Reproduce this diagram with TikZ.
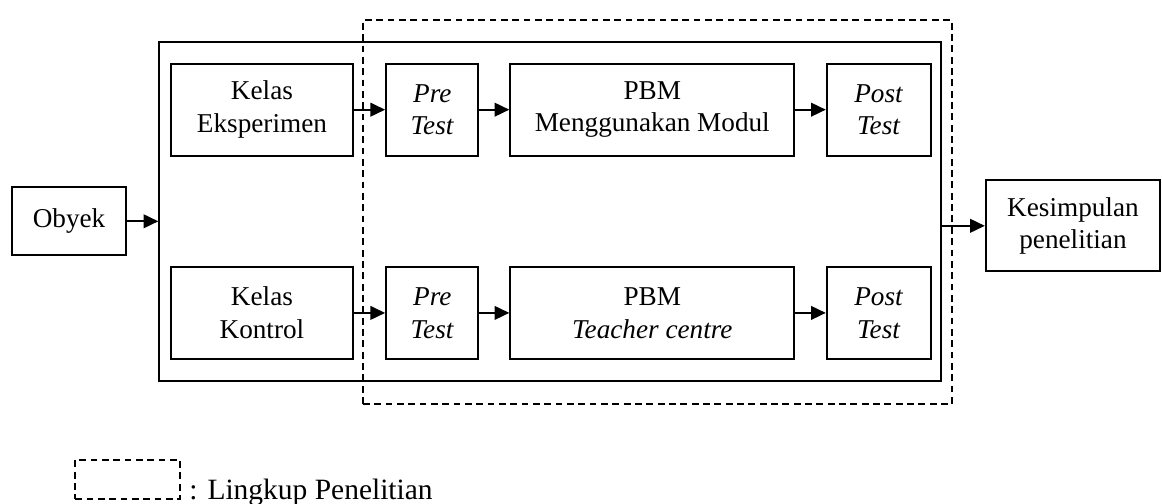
\documentclass[tikz,border=0pt]{standalone}
\usepackage{fontspec}
\setmainfont{Liberation Serif}
\usetikzlibrary{arrows.meta}

\begin{document}
\begin{tikzpicture}[
        block/.style={rectangle, draw, line width=0.9pt, minimum height=1.43cm, align=center, inner sep=1pt, font=\fontsize{12}{14.4}\selectfont},
        frame/.style={rectangle, draw, line width=0.9pt, inner sep=0pt},
        scope box/.style={rectangle, draw, line width=0.9pt, dash pattern=on 3pt off 2pt, inner sep=0pt},
        arrow/.style={-{Triangle[length=6.5pt, width=6pt]}, line width=0.9pt}
    ]
        \useasboundingbox (0,0) rectangle (18.01,-7.80);

        % Frames
        \node[frame, minimum width=12.12cm, minimum height=5.25cm] (kelompok) at (8.53,-3.28) {};
        \node[scope box, minimum width=9.13cm, minimum height=5.95cm] (lingkup) at (10.19,-3.29) {};

        % Obyek
        \node[block, minimum width=1.77cm, minimum height=1.05cm] (obyek) at (1.07,-3.43) {Obyek};

        % Kelas eksperimen
        \node[block, minimum width=2.82cm] (eksp) at (4.06,-1.70) {Kelas\\Eksperimen};
        \node[block, minimum width=1.43cm] (pre1) at (6.70,-1.70) {\textit{Pre}\\\textit{Test}};
        \node[block, minimum width=4.40cm] (pbm1) at (10.11,-1.70) {PBM\\Menggunakan Modul};
        \node[block, minimum width=1.61cm] (post1) at (13.62,-1.70) {\textit{Post}\\\textit{Test}};

        % Kelas kontrol
        \node[block, minimum width=2.82cm] (kontrol) at (4.06,-4.85) {Kelas\\Kontrol};
        \node[block, minimum width=1.43cm] (pre2) at (6.70,-4.85) {\textit{Pre}\\\textit{Test}};
        \node[block, minimum width=4.40cm] (pbm2) at (10.11,-4.85) {PBM\\\textit{Teacher centre}};
        \node[block, minimum width=1.61cm] (post2) at (13.62,-4.85) {\textit{Post}\\\textit{Test}};

        % Kesimpulan
        \node[block, minimum width=2.70cm, minimum height=1.41cm] (kesimpulan) at (16.63,-3.50) {Kesimpulan\\penelitian};

        % Legend
        \node[scope box, minimum width=1.63cm, minimum height=0.60cm] (legenda) at (1.98,-7.43) {};
        \node[anchor=base west, inner sep=0pt, font=\fontsize{13}{15.6}\selectfont] (ket) at (2.93,-7.74) {: Lingkup Penelitian};

        \draw[arrow] (obyek.east) -- (obyek.east -| kelompok.west);
        \draw[arrow] (eksp) -- (pre1);
        \draw[arrow] (pre1) -- (pbm1);
        \draw[arrow] (pbm1) -- (post1);
        \draw[arrow] (kontrol) -- (pre2);
        \draw[arrow] (pre2) -- (pbm2);
        \draw[arrow] (pbm2) -- (post2);
        \draw[arrow] (kelompok.east |- kesimpulan) -- (kesimpulan);
    \end{tikzpicture}
\end{document}
